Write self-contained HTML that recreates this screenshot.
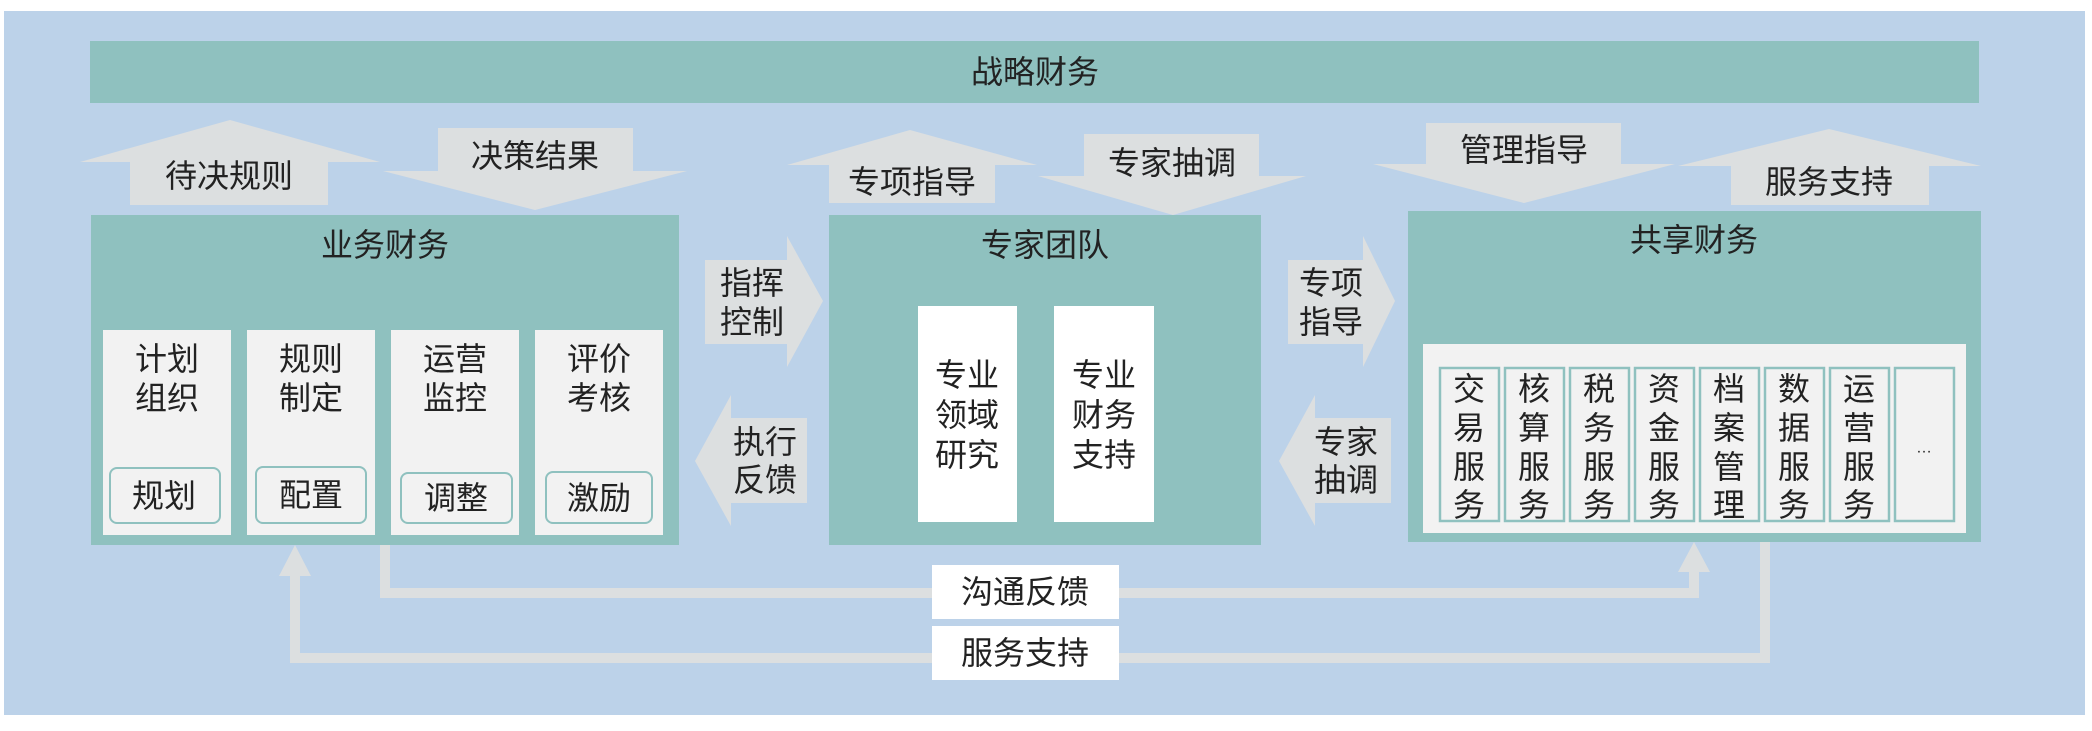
<!DOCTYPE html>
<html><head><meta charset="utf-8"><style>
html,body{margin:0;padding:0;background:#fff;}
svg{display:block;}
text{font-family:"Liberation Sans","Noto Sans CJK SC",sans-serif;font-size:32px;fill:#222;text-anchor:middle;dominant-baseline:central;}
</style></head><body>
<svg width="2092" height="731" viewBox="0 0 2092 731" xmlns="http://www.w3.org/2000/svg">
<rect x="4" y="11" width="2081" height="704" fill="#bcd2e9"/>
<rect x="90" y="41" width="1889" height="62" fill="#8fc1bf"/>
<text x="1035" y="72">战略财务</text>

<g fill="#dcdfe0">
<polygon points="230,120 380,162 328,162 328,205 130,205 130,162 80,162"/>
<polygon points="438,128 633,128 633,171 687,171 535,210 383,171 438,171"/>
<polygon points="910,130 1037,165 995,165 995,203 829,203 829,165 787,165"/>
<polygon points="1084,134 1259,134 1259,176 1306,176 1173,215 1038,176 1084,176"/>
<polygon points="1426,123 1621,123 1621,164 1675,164 1524,203 1373,164 1426,164"/>
<polygon points="1829,129 1981,166 1929,166 1929,205 1731,205 1731,166 1678,166"/>
<polygon points="705,260 787,260 787,236 823,301 787,367 787,344 705,344"/>
<polygon points="807,418 731,418 731,395 695,461 731,526 731,503 807,503"/>
<polygon points="1288,260 1363,260 1363,236 1395,301 1363,367 1363,344 1288,344"/>
<polygon points="1391,418 1315,418 1315,395 1279,461 1315,526 1315,503 1391,503"/>
</g>
<text x="229" y="176">待决规则</text>
<text x="535" y="156">决策结果</text>
<text x="912" y="182">专项指导</text>
<text x="1172" y="163">专家抽调</text>
<text x="1524" y="150">管理指导</text>
<text x="1829" y="182">服务支持</text>
<text x="752" y="283">指挥</text><text x="752" y="322">控制</text>
<text x="765" y="442">执行</text><text x="765" y="480">反馈</text>
<text x="1331" y="283">专项</text><text x="1331" y="322">指导</text>
<text x="1346" y="442">专家</text><text x="1346" y="480">抽调</text>

<g fill="none" stroke="#dcdfe0" stroke-width="10">
<polyline points="385,545 385,593 1694,593 1694,568"/>
<polyline points="1765,542 1765,658 295,658 295,572"/>
</g>
<g fill="#dcdfe0">
<polygon points="1694,542 1710,572 1678,572"/>
<polygon points="295,545 311,576 279,576"/>
</g>
<rect x="932" y="565" width="187" height="54" fill="#fff"/>
<rect x="932" y="626" width="187" height="54" fill="#fff"/>
<text x="1025" y="592">沟通反馈</text>
<text x="1025" y="653">服务支持</text>

<rect x="91" y="215" width="588" height="330" fill="#8fc1bf"/>
<text x="385" y="245">业务财务</text>
<g fill="#f2f2f2">
<rect x="103" y="330" width="128" height="205"/>
<rect x="247" y="330" width="128" height="205"/>
<rect x="391" y="330" width="128" height="205"/>
<rect x="535" y="330" width="128" height="205"/>
</g>
<text x="167" y="359">计划</text><text x="167" y="398">组织</text>
<text x="311" y="359">规则</text><text x="311" y="398">制定</text>
<text x="455" y="359">运营</text><text x="455" y="398">监控</text>
<text x="599" y="359">评价</text><text x="599" y="398">考核</text>
<g fill="#f2f2f2" stroke="#8fc1bf" stroke-width="2">
<rect x="110" y="468" width="110" height="55" rx="7"/>
<rect x="256" y="467" width="110" height="56" rx="7"/>
<rect x="401" y="473" width="111" height="50" rx="7"/>
<rect x="546" y="472" width="106" height="51" rx="7"/>
</g>
<text x="164" y="496">规划</text>
<text x="311" y="495">配置</text>
<text x="456" y="498">调整</text>
<text x="599" y="498">激励</text>

<rect x="829" y="215" width="432" height="330" fill="#8fc1bf"/>
<text x="1045" y="245">专家团队</text>
<rect x="918" y="306" width="99" height="216" fill="#fff"/>
<rect x="1054" y="306" width="100" height="216" fill="#fff"/>
<text x="967" y="375">专业</text><text x="967" y="415">领域</text><text x="967" y="455">研究</text>
<text x="1104" y="375">专业</text><text x="1104" y="415">财务</text><text x="1104" y="455">支持</text>

<rect x="1408" y="211" width="573" height="331" fill="#8fc1bf"/>
<text x="1694" y="240">共享财务</text>
<rect x="1423" y="344" width="543" height="189" fill="#f2f2f2"/>
<g fill="#f2f2f2" stroke="#8fc1bf" stroke-width="2.5">
<rect x="1440" y="368" width="59" height="153"/>
<rect x="1505" y="368" width="59" height="153"/>
<rect x="1570" y="368" width="59" height="153"/>
<rect x="1635" y="368" width="59" height="153"/>
<rect x="1700" y="368" width="59" height="153"/>
<rect x="1765" y="368" width="59" height="153"/>
<rect x="1830" y="368" width="59" height="153"/>
<rect x="1895" y="368" width="59" height="153"/>
</g>
<g>
<text x="1469" y="389">交</text><text x="1469" y="428">易</text><text x="1469" y="467">服</text><text x="1469" y="505">务</text>
<text x="1534" y="389">核</text><text x="1534" y="428">算</text><text x="1534" y="467">服</text><text x="1534" y="505">务</text>
<text x="1599" y="389">税</text><text x="1599" y="428">务</text><text x="1599" y="467">服</text><text x="1599" y="505">务</text>
<text x="1664" y="389">资</text><text x="1664" y="428">金</text><text x="1664" y="467">服</text><text x="1664" y="505">务</text>
<text x="1729" y="389">档</text><text x="1729" y="428">案</text><text x="1729" y="467">管</text><text x="1729" y="505">理</text>
<text x="1794" y="389">数</text><text x="1794" y="428">据</text><text x="1794" y="467">服</text><text x="1794" y="505">务</text>
<text x="1859" y="389">运</text><text x="1859" y="428">营</text><text x="1859" y="467">服</text><text x="1859" y="505">务</text>
<text x="1924" y="448" style="font-size:16px">…</text>
</g>
</svg>
</body></html>
